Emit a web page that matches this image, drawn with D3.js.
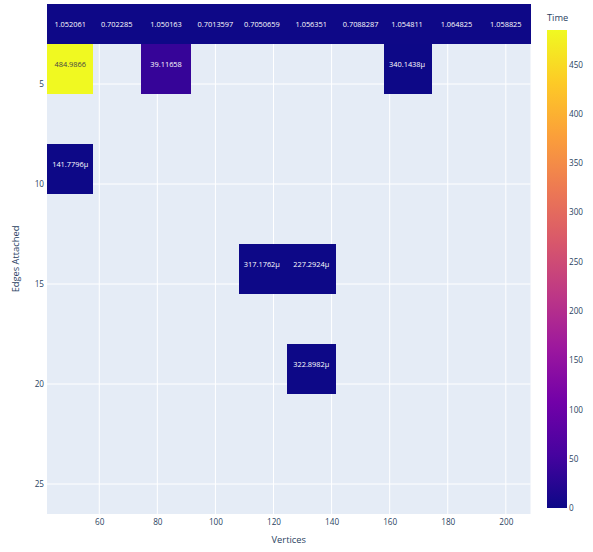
<!DOCTYPE html>
<html>
<head>
<meta charset="utf-8">
<script src="https://cdn.jsdelivr.net/npm/d3@7"></script>
<style>
  html, body { margin: 0; padding: 0; background: #fff; }
  svg { display: block; }
  text { font-family: "Open Sans", verdana, arial, sans-serif; }
</style>
</head>
<body>
<div id="chart"></div>
<script>
// Heatmap of run time by number of vertices and edges attached per new vertex.
const vertices = [50, 66, 83, 100, 116, 133, 150, 166, 183, 200];
const edgesAttached = [2, 4, 7, 9, 12, 14, 17, 19, 22, 25];

// One row of timings per edges-attached value (null = no run)
const timeE2  = [1.052061, 0.702285, 1.050163, 0.7013597, 0.7050659, 1.056351, 0.7088287, 1.054811, 1.064825, 1.058825];
const timeE4  = [484.9866, null, 39.11658, null, null, null, null, 340.1438e-6, null, null];
const timeE7  = [null, null, null, null, null, null, null, null, null, null];
const timeE9  = [141.7796e-6, null, null, null, null, null, null, null, null, null];
const timeE12 = [null, null, null, null, null, null, null, null, null, null];
const timeE14 = [null, null, null, null, 317.1762e-6, 227.2924e-6, null, null, null, null];
const timeE17 = [null, null, null, null, null, null, null, null, null, null];
const timeE19 = [null, null, null, null, null, 322.8982e-6, null, null, null, null];
const timeE22 = [null, null, null, null, null, null, null, null, null, null];
const timeE25 = [null, null, null, null, null, null, null, null, null, null];
const timeRows = [timeE2, timeE4, timeE7, timeE9, timeE12, timeE14, timeE17, timeE19, timeE22, timeE25];

const xTicks = [60, 80, 100, 120, 140, 160, 180, 200];
const yTicks = [5, 10, 15, 20, 25];
const colorbarTicks = [0, 50, 100, 150, 200, 250, 300, 350, 400, 450];

const plasmaStops = ["#0d0887", "#46039f", "#7201a8", "#9c179e", "#bd3786",
                     "#d8576b", "#ed7953", "#fb9f3a", "#fdca26", "#f0f921"];

const W = 593, H = 552;
const plot = { left: 47, right: 530.5, top: 4, bottom: 514 };
const cb = { left: 547, right: 567, top: 30, bottom: 508 };
const axisColor = "#2a3f5f";

// Cell boundaries sit halfway between neighbouring coordinates
function cellEdges(v) {
  const e = [v[0] - (v[1] - v[0]) / 2];
  for (let i = 1; i < v.length; i++) e.push((v[i - 1] + v[i]) / 2);
  e.push(v[v.length - 1] + (v[v.length - 1] - v[v.length - 2]) / 2);
  return e;
}
const xEdges = cellEdges(vertices);
const yEdges = cellEdges(edgesAttached);

const x = d3.scaleLinear().domain([xEdges[0], xEdges[xEdges.length - 1]]).range([plot.left, plot.right]);
const y = d3.scaleLinear().domain([yEdges[0], yEdges[yEdges.length - 1]]).range([plot.top, plot.bottom]);

const allVals = timeRows.flat().filter(v => v != null);
const zMin = 0, zMax = d3.max(allVals);
const color = d3.scaleLinear()
  .domain(plasmaStops.map((_, i) => zMin + (zMax - zMin) * i / (plasmaStops.length - 1)))
  .range(plasmaStops)
  .interpolate(d3.interpolateRgb);

const fmtSmall = d3.format(".7~s");
const fmtNum = d3.format(".7~");
const fmt = v => Math.abs(v) < 1e-3 ? fmtSmall(v).replace("\u00b5", "\u03bc") : fmtNum(v);

const svg = d3.select("#chart").append("svg").attr("width", W).attr("height", H);

// Plot background
svg.append("rect")
  .attr("x", plot.left).attr("y", plot.top)
  .attr("width", plot.right - plot.left).attr("height", plot.bottom - plot.top)
  .attr("fill", "#E5ECF6");

// Grid lines
const grid = svg.append("g").attr("stroke", "#fff").attr("stroke-width", 1);
grid.selectAll(".gx").data(xTicks).join("line")
  .attr("x1", d => x(d)).attr("x2", d => x(d))
  .attr("y1", plot.top).attr("y2", plot.bottom);
grid.selectAll(".gy").data(yTicks).join("line")
  .attr("x1", plot.left).attr("x2", plot.right)
  .attr("y1", d => y(d)).attr("y2", d => y(d));

// Cells, snapped to whole pixels so neighbours meet without seams
const cells = [];
timeRows.forEach((row, r) => row.forEach((v, c) => {
  if (v != null) cells.push({ r, c, v });
}));
const px = v => Math.round(v);

const cellG = svg.append("g");
cellG.selectAll("rect").data(cells).join("rect")
  .attr("x", d => px(x(xEdges[d.c])))
  .attr("y", d => px(y(yEdges[d.r])))
  .attr("width", d => px(x(xEdges[d.c + 1])) - px(x(xEdges[d.c])))
  .attr("height", d => px(y(yEdges[d.r + 1])) - px(y(yEdges[d.r])))
  .attr("fill", d => color(d.v))
  .attr("shape-rendering", "crispEdges");

cellG.selectAll("text").data(cells).join("text")
  .attr("x", d => x(vertices[d.c]))
  .attr("y", d => y(edgesAttached[d.r]))
  .attr("dy", "0.35em")
  .attr("text-anchor", "middle")
  .attr("font-size", 7.4)
  .attr("fill", d => d3.hsl(color(d.v)).l > 0.55 ? "#444" : "#fff")
  .text(d => fmt(d.v));

// Axes
const xAxis = svg.append("g").attr("transform", `translate(0,${plot.bottom})`)
  .call(d3.axisBottom(x).tickValues(xTicks).tickSize(0).tickPadding(5));
const yAxis = svg.append("g").attr("transform", `translate(${plot.left},0)`)
  .call(d3.axisLeft(y).tickValues(yTicks).tickSize(0).tickPadding(3));
[xAxis, yAxis].forEach(a => {
  a.select(".domain").remove();
  a.selectAll("text").attr("fill", axisColor).attr("font-size", 8.2)
    .attr("font-family", "\"Open Sans\", verdana, arial, sans-serif");
});

svg.append("text")
  .attr("x", (plot.left + plot.right) / 2).attr("y", 543)
  .attr("text-anchor", "middle").attr("font-size", 9.3).attr("fill", axisColor)
  .text("Vertices");
svg.append("text")
  .attr("transform", `translate(19,${(plot.top + plot.bottom) / 2}) rotate(-90)`)
  .attr("text-anchor", "middle").attr("font-size", 9.3).attr("fill", axisColor)
  .text("Edges Attached");

// Colorbar
const defs = svg.append("defs");
const grad = defs.append("linearGradient").attr("id", "cbGrad")
  .attr("x1", 0).attr("y1", 1).attr("x2", 0).attr("y2", 0);
plasmaStops.forEach((c, i) => {
  grad.append("stop").attr("offset", i / (plasmaStops.length - 1)).attr("stop-color", c);
});
svg.append("rect")
  .attr("x", cb.left).attr("y", cb.top)
  .attr("width", cb.right - cb.left).attr("height", cb.bottom - cb.top)
  .attr("fill", "url(#cbGrad)");

const cbScale = d3.scaleLinear().domain([zMin, zMax]).range([cb.bottom, cb.top]);
const cbAxis = svg.append("g").attr("transform", `translate(${cb.right},0)`)
  .call(d3.axisRight(cbScale).tickValues(colorbarTicks).tickSize(0).tickPadding(2));
cbAxis.select(".domain").remove();
cbAxis.selectAll("text").attr("fill", axisColor).attr("font-size", 8.2)
  .attr("font-family", "\"Open Sans\", verdana, arial, sans-serif");

svg.append("text")
  .attr("x", cb.left).attr("y", 21)
  .attr("font-size", 9.3).attr("fill", axisColor)
  .text("Time");
</script>
</body>
</html>
